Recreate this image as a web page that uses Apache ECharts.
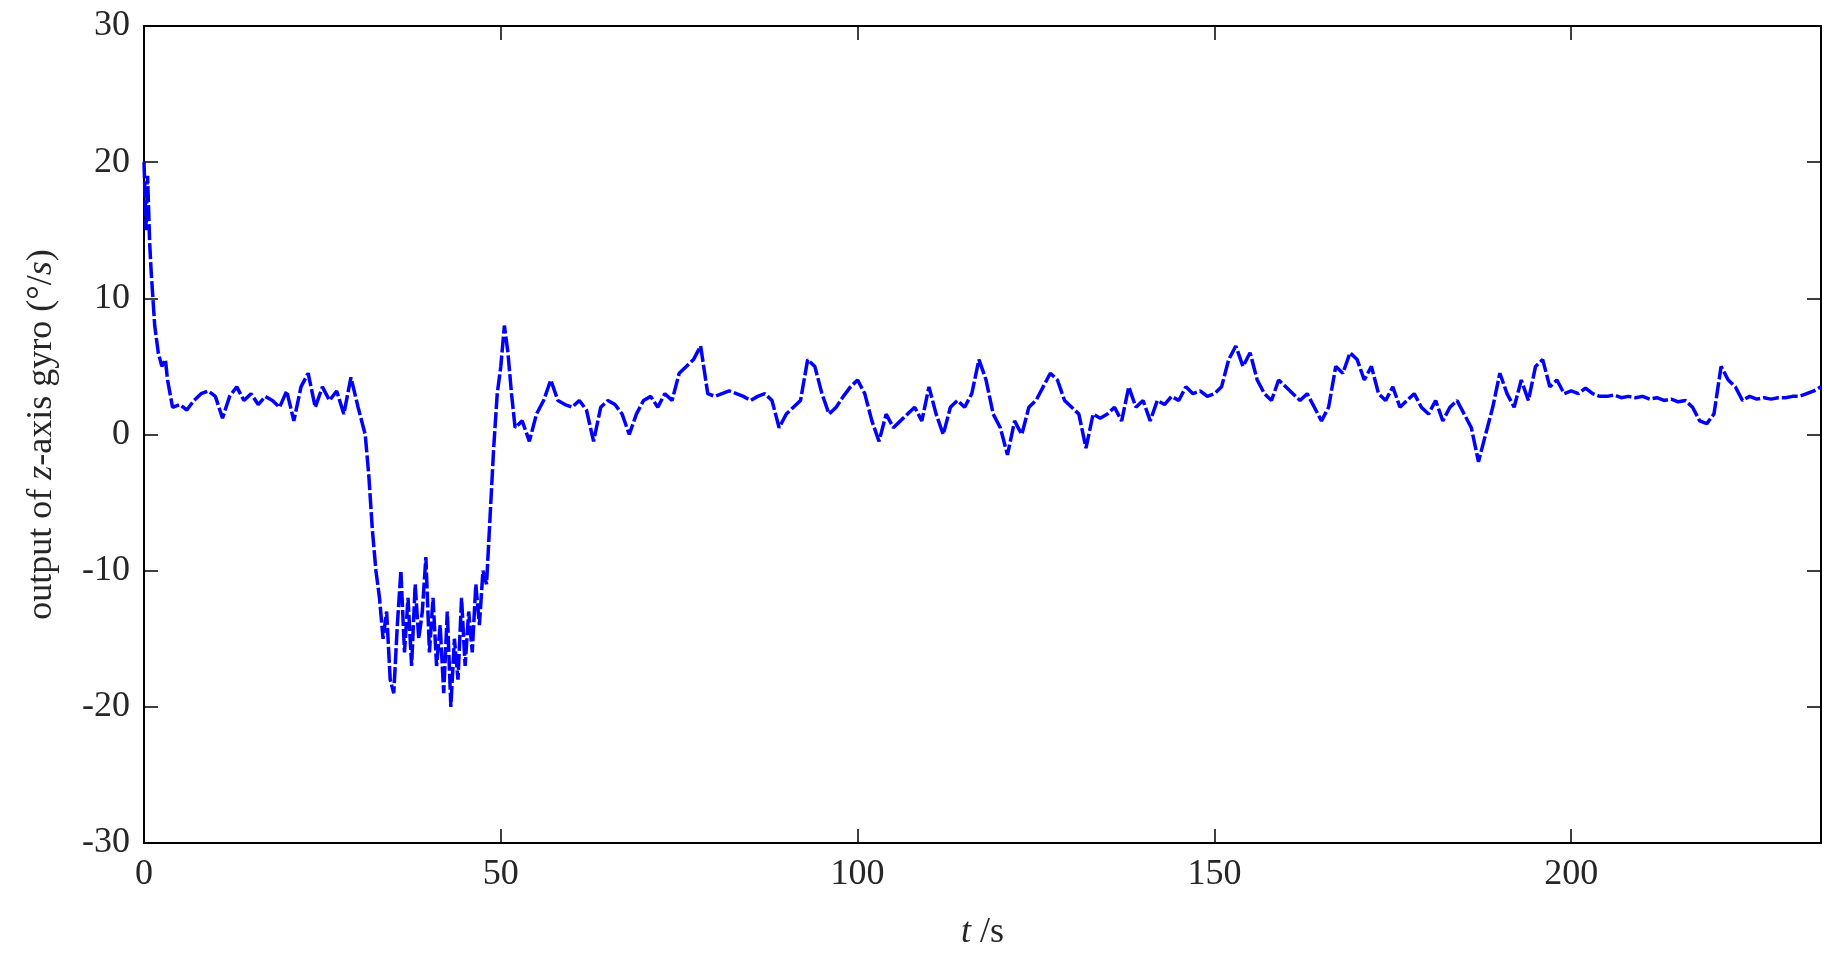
<!DOCTYPE html>
<html><head><meta charset="utf-8">
<script src="https://cdn.jsdelivr.net/npm/echarts@6/dist/echarts.min.js"></script>
<style>html,body{margin:0;background:#fff}#c{width:1841px;height:969px}</style>
</head><body><div id="c"></div>
<script>
const times = [0,0.3,0.5,0.8,1,1.5,2,2.5,3,3.3,4,5,6,7,8,9,10,11,12,13,14,15,16,17,18,19,20,21,22,23,24,25,26,27,28,29,30,31,31.5,32,32.5,33,33.5,34,34.5,35,35.5,36,36.5,37,37.5,38,38.5,39,39.5,40,40.5,41,41.5,42,42.5,43,43.5,44,44.5,45,45.5,46,46.5,47,47.5,48,48.5,49,49.5,50,50.5,51,51.5,52,53,54,55,56,57,58,59,60,61,62,63,64,65,66,67,68,69,70,71,72,73,74,75,76,77,78,79,80,81,82,83,84,85,86,87,88,89,90,91,92,93,94,95,96,97,98,99,100,101,102,103,104,105,106,107,108,109,110,111,112,113,114,115,116,117,118,119,120,121,122,123,124,125,126,127,128,129,130,131,132,133,134,135,136,137,138,139,140,141,142,143,144,145,146,147,148,149,150,151,152,153,154,155,156,157,158,159,160,161,162,163,164,165,166,167,168,169,170,171,172,173,174,175,176,177,178,179,180,181,182,183,184,185,186,187,188,189,190,191,192,193,194,195,196,197,198,199,200,201,202,203,204,205,206,207,208,209,210,211,212,213,214,215,216,217,218,219,220,221,222,223,224,225,226,227,228,229,230,231,232,233,234,235];
const values = [20,15,19,14,12,8,6,5,5.5,4,2,2.2,1.8,2.5,3,3.2,2.8,1.2,2.8,3.5,2.5,3,2.2,2.8,2.5,2,3.2,1,3.5,4.5,2,3.5,2.5,3.2,1.5,4.2,2,0,-3,-7,-10,-12,-15,-13,-18,-19,-14,-10,-16,-12,-17,-11,-15,-13,-9,-16,-12,-17,-14,-19,-13,-20,-15,-18,-12,-17,-13,-16,-11,-14,-10,-11,-6,-1,3,5,8,6,3,0.5,1,-0.5,1.5,2.5,4,2.5,2.2,2,2.5,1.8,-0.5,2,2.5,2.2,1.5,0,1.5,2.5,2.8,2,3,2.5,4.5,5,5.5,6.5,3,2.8,3,3.2,3,2.8,2.5,2.8,3,2.5,0.5,1.5,2,2.5,5.5,5,3,1.5,2,2.8,3.5,4,3,1,-0.5,1.5,0.5,1,1.5,2,1,3.5,1.5,0,2,2.5,2,3,5.5,4,1.5,0.5,-1.5,1,0,2,2.5,3.5,4.5,4,2.5,2,1.5,-1,1.5,1.2,1.5,2,1,3.5,2,2.5,1,2.5,2.2,2.8,2.5,3.5,3,3.2,2.8,3,3.5,5.5,6.5,5,6,4,3,2.5,4,3.5,3,2.5,3,2,1,2,5,4.5,6,5.5,4,5,3,2.5,3.5,2,2.5,3,2,1.5,2.5,1,2,2.5,1.5,0.5,-2,0,2,4.5,3,2,4,2.5,5,5.5,3.5,4,3,3.2,3,3.4,3,2.8,2.8,2.9,2.7,2.8,2.7,2.8,2.6,2.7,2.5,2.6,2.4,2.5,2,1,0.8,1.5,5,4,3.5,2.5,2.8,2.6,2.7,2.6,2.7,2.7,2.8,2.8,3,3.2,3.5];
const xTicks = [0,50,100,150,200];
const yTicks = [-30,-20,-10,0,10,20,30];
const data = times.map((t,i)=>[t,values[i]]);
const font = 'Liberation Serif, Times New Roman, serif';
const ch = echarts.init(document.getElementById('c'));
const ax = {color:'#262626',fontFamily:font,fontSize:36};
const line = {onZero:false,lineStyle:{color:'#000',width:2}};
const tick = {inside:true,length:14,lineStyle:{color:'#000',width:1.5}};
const rich = {i:{fontStyle:'italic',fontFamily:font,fontSize:36,color:'#262626'},n:{fontFamily:font,fontSize:36,color:'#262626'}};
ch.setOption({
  animation:false,
  grid:{left:144,right:20,top:26,bottom:126},
  xAxis:[{type:'value',min:0,max:235,interval:50,axisLine:line,axisTick:tick,
    splitLine:{show:false},axisLabel:Object.assign({margin:14,showMaxLabel:false},ax),
    name:'{i|t}{n| /s}',nameLocation:'middle',nameGap:72,nameTextStyle:{rich:rich}},
   {type:'value',position:'top',min:0,max:235,interval:50,axisLine:line,
    axisTick:tick,axisLabel:{show:false},splitLine:{show:false}}],
  yAxis:[{type:'value',min:-30,max:30,interval:10,axisLine:line,axisTick:tick,
    splitLine:{show:false},axisLabel:Object.assign({margin:14},ax),
    name:'{n|output of }{i|z}{n|-axis gyro (°/}{i|s}{n|)}',nameLocation:'middle',nameGap:84,nameTextStyle:{rich:rich}},
   {type:'value',position:'right',min:-30,max:30,interval:10,axisLine:line,
    axisTick:tick,axisLabel:{show:false},splitLine:{show:false}}],
  series:[{type:'line',data:data,showSymbol:false,lineStyle:{color:'#0000ff',width:3.5,type:[16,3]}},
    {type:'line',xAxisIndex:1,yAxisIndex:1,data:[],showSymbol:false}]
});
</script></body></html>
